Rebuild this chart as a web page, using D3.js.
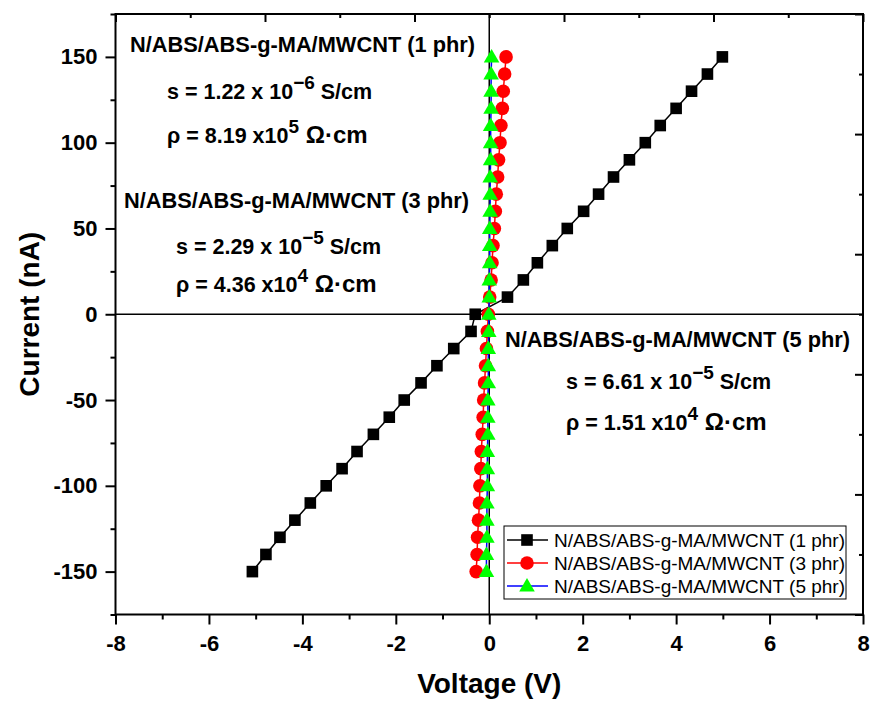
<!DOCTYPE html>
<html>
<head>
<meta charset="utf-8">
<script src="https://cdn.jsdelivr.net/npm/d3@7"></script>
<style>
    body { margin: 0; background: #fff; }
    svg { font-family: Arial, "Liberation Sans", sans-serif; }
</style>
</head>
<body>
<svg id="Target" width="870" height="702"></svg>
<script>
// current steps (nA), same for all three samples
var current = [-150, -140, -130, -120, -110, -100, -90, -80, -70, -60, -50, -40, -30, -20, -10,
    0, 10, 20, 30, 40, 50, 60, 70, 80, 90, 100, 110, 120, 130, 140, 150];
// voltage (V)
var voltage1 = [-5.07, -4.78, -4.48, -4.16, -3.83, -3.49, -3.15, -2.83, -2.48, -2.14, -1.82, -1.46, -1.12, -0.76, -0.39,
    -0.30, 0.39, 0.73, 1.03, 1.35, 1.67, 2.02, 2.34, 2.66, 3.00, 3.34, 3.66, 4.00, 4.33, 4.67, 4.99];
var voltage3 = [-0.28, -0.26, -0.25, -0.23, -0.21, -0.20, -0.18, -0.17, -0.15, -0.13, -0.12, -0.10, -0.08, -0.06, -0.04,
    -0.02, 0.01, 0.04, 0.06, 0.08, 0.11, 0.13, 0.15, 0.18, 0.20, 0.23, 0.25, 0.28, 0.30, 0.33, 0.36];
var voltage5 = [-0.06, -0.06, -0.05, -0.05, -0.05, -0.04, -0.04, -0.04, -0.03, -0.03, -0.03, -0.02, -0.02, -0.02, -0.01,
    -0.01, 0.00, 0.00, 0.01, 0.01, 0.01, 0.02, 0.02, 0.02, 0.03, 0.03, 0.03, 0.04, 0.04, 0.04, 0.05];
var seriesNames = ["N/ABS/ABS-g-MA/MWCNT (1 phr)", "N/ABS/ABS-g-MA/MWCNT (3 phr)", "N/ABS/ABS-g-MA/MWCNT (5 phr)"];
var conductivity = ["1.22", "2.29", "6.61"];
var conductivityExp = ["\u22126", "\u22125", "\u22125"];
var resistivity = ["8.19", "4.36", "1.51"];
var resistivityExp = ["5", "4", "4"];

var xMajorTicks = [-8, -6, -4, -2, 0, 2, 4, 6, 8];
var xMinorTicks = [-7, -5, -3, -1, 1, 3, 5, 7];
var yMajorTicks = [-150, -100, -50, 0, 50, 100, 150];
var yMinorTicks = [-175, -125, -75, -25, 25, 75, 125, 175];
var topMajorTicks = [-8, -4.8, -1.6, 1.6, 4.8, 8];
var topMinorTicks = [-6.4, -3.2, 0, 3.2, 6.4];
var rightMajorTicks = [-175, -105, -35, 35, 105, 175];
var rightMinorTicks = [-140, -70, 0, 70, 140];

var svg = d3.select("#Target");
var plotLeft = 115.5, plotRight = 863, plotTop = 14, plotBottom = 614.5;

var x = d3.scaleLinear().domain([-8, 8]).range([plotLeft, plotRight]);
var y = d3.scaleLinear().domain([-175, 175]).range([plotBottom, plotTop]);

// plain hyphen minus, like the original
var tickText = function (d) { return String(d); };

var styleAxis = function (g) {
    g.select(".domain").remove();
    g.selectAll(".tick line").attr("stroke", "#000").attr("stroke-width", 2);
    g.selectAll(".tick text")
        .attr("font-size", 22)
        .attr("font-weight", "bold")
        .attr("fill", "#000");
};

// bottom axis, outward ticks
svg.append("g").attr("transform", "translate(0," + plotBottom + ")")
    .call(d3.axisBottom(x).tickValues(xMajorTicks).tickSize(10).tickPadding(11).tickFormat(tickText))
    .call(styleAxis);
svg.append("g").attr("transform", "translate(0," + plotBottom + ")")
    .call(d3.axisBottom(x).tickValues(xMinorTicks).tickSize(5).tickFormat(""))
    .call(styleAxis);
// left axis
svg.append("g").attr("transform", "translate(" + plotLeft + ",0)")
    .call(d3.axisLeft(y).tickValues(yMajorTicks).tickSize(10).tickPadding(8).tickFormat(tickText))
    .call(styleAxis);
svg.append("g").attr("transform", "translate(" + plotLeft + ",0)")
    .call(d3.axisLeft(y).tickValues(yMinorTicks).tickSize(5).tickFormat(""))
    .call(styleAxis);
// top and right axes, ticks pointing in
svg.append("g").attr("transform", "translate(0," + plotTop + ")")
    .call(d3.axisTop(x).tickValues(topMajorTicks).tickSize(-8).tickFormat(""))
    .call(styleAxis);
svg.append("g").attr("transform", "translate(0," + plotTop + ")")
    .call(d3.axisTop(x).tickValues(topMinorTicks).tickSize(-4).tickFormat(""))
    .call(styleAxis);
svg.append("g").attr("transform", "translate(" + plotRight + ",0)")
    .call(d3.axisRight(y).tickValues(rightMajorTicks).tickSize(-8).tickFormat(""))
    .call(styleAxis);
svg.append("g").attr("transform", "translate(" + plotRight + ",0)")
    .call(d3.axisRight(y).tickValues(rightMinorTicks).tickSize(-4).tickFormat(""))
    .call(styleAxis);

// zero lines
svg.append("line")
    .attr("x1", plotLeft).attr("x2", plotRight).attr("y1", y(0)).attr("y2", y(0))
    .attr("stroke", "#000").attr("stroke-width", 1.5);
svg.append("line")
    .attr("x1", x(0)).attr("x2", x(0)).attr("y1", plotTop).attr("y2", plotBottom)
    .attr("stroke", "#000").attr("stroke-width", 1.5);

// frame
svg.append("rect")
    .attr("x", plotLeft).attr("y", plotTop)
    .attr("width", plotRight - plotLeft).attr("height", plotBottom - plotTop)
    .attr("fill", "none").attr("stroke", "#000").attr("stroke-width", 2);

// axis titles
svg.append("text")
    .attr("transform", "translate(39," + y(0) + ") rotate(-90)")
    .attr("text-anchor", "middle")
    .attr("font-size", 28)
    .attr("font-weight", "bold")
    .text("Current (nA)");
svg.append("text")
    .attr("x", x(0)).attr("y", 693)
    .attr("text-anchor", "middle")
    .attr("font-size", 28)
    .attr("font-weight", "bold")
    .text("Voltage (V)");

// marker shapes
var symbolSquare = d3.symbol().type(d3.symbolSquare).size(135);
var symbolCircle = d3.symbol().type(d3.symbolCircle).size(145);
var symbolTriangle = d3.symbol().type(d3.symbolTriangle).size(105);

var series = [
    { name: seriesNames[0], v: voltage1, line: "#000", fill: "#000", shape: symbolSquare },
    { name: seriesNames[1], v: voltage3, line: "#ff0000", fill: "#ff0000", shape: symbolCircle },
    { name: seriesNames[2], v: voltage5, line: "#0000ff", fill: "#00ff00", shape: symbolTriangle }
];

var lineGenerator = d3.line()
    .x(function (d) { return x(d[0]); })
    .y(function (d) { return y(d[1]); });

series.forEach(function (s) {
    var pts = s.v.map(function (v, i) { return [v, current[i]]; });
    var g = svg.append("g");
    g.append("path")
        .attr("d", lineGenerator(pts))
        .attr("fill", "none")
        .attr("stroke", s.line)
        .attr("stroke-width", 1.5);
    g.selectAll("path.pt")
        .data(pts)
        .enter()
        .append("path")
        .attr("class", "pt")
        .attr("d", s.shape)
        .attr("transform", function (d) {
            // triangles sit a bit lower so their centroid lands on the point
            var dy = s.shape === symbolTriangle ? 1 : 0;
            return "translate(" + x(d[0]) + "," + (y(d[1]) + dy) + ")";
        })
        .attr("fill", s.fill);
});

// annotations
var blocks = [
    { hx: 130, hy: 52, sx: 167, sy: 99, ry: 143 },
    { hx: 124, hy: 208, sx: 176, sy: 254, ry: 292 },
    { hx: 505, hy: 347, sx: 566, sy: 389, ry: 430 }
];
blocks.forEach(function (b, i) {
    svg.append("text")
        .attr("x", b.hx).attr("y", b.hy)
        .attr("font-size", 21.8).attr("font-weight", "bold")
        .text(seriesNames[i]);
    var s = svg.append("text")
        .attr("x", b.sx).attr("y", b.sy)
        .attr("font-size", 21.5).attr("font-weight", "bold");
    s.append("tspan").text("s = " + conductivity[i] + " x 10");
    s.append("tspan").attr("dy", -10).attr("font-size", 19).text(conductivityExp[i]);
    s.append("tspan").attr("dy", 10).text(" S/cm");
    var r = svg.append("text")
        .attr("x", b.sx).attr("y", b.ry)
        .attr("font-size", 21.5).attr("font-weight", "bold");
    r.append("tspan").text("\u03c1 = " + resistivity[i] + " x10");
    r.append("tspan").attr("dy", -10).attr("font-size", 19).text(resistivityExp[i]);
    r.append("tspan").attr("dy", 10).attr("font-size", 24).text(" \u03a9\u00b7cm");
});

// legend
var legend = svg.append("g").attr("transform", "translate(504,526)");
legend.append("rect")
    .attr("width", 342).attr("height", 73)
    .attr("fill", "#fff").attr("stroke", "#000").attr("stroke-width", 1);
series.forEach(function (s, i) {
    var ly = 14 + i * 23;
    legend.append("line")
        .attr("x1", 3).attr("x2", 44).attr("y1", ly).attr("y2", ly)
        .attr("stroke", s.line).attr("stroke-width", 1.5);
    legend.append("path")
        .attr("d", s.shape)
        .attr("transform", "translate(23," + (ly + (s.shape === symbolTriangle ? 1 : 0)) + ")")
        .attr("fill", s.fill);
    legend.append("text")
        .attr("x", 50).attr("y", ly + 7)
        .attr("font-size", 19)
        .text(s.name);
});
</script>
</body>
</html>
